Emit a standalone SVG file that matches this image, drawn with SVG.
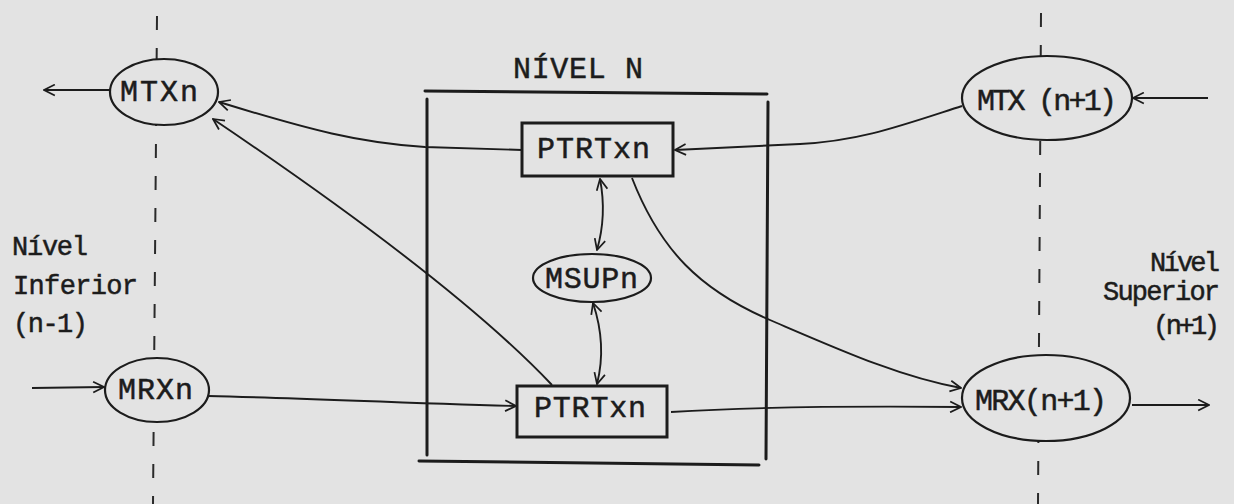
<svg xmlns="http://www.w3.org/2000/svg" width="1234" height="504" viewBox="0 0 1234 504">
<style>
  .bg { fill: #e3e3e3; }
  .t { font-family: "Liberation Mono", "DejaVu Sans Mono", monospace; fill: #1c1c1c; stroke: #1c1c1c; stroke-width: 0.5; }
  .node-t { font-size: 30px; }
  .side-t { font-size: 27px; }
  .shape { fill: #e3e3e3; stroke: #1c1c1c; stroke-width: 2.2; }
  .box { fill: #e3e3e3; stroke: #1c1c1c; stroke-width: 3; }
  .frame { fill: none; stroke: #1c1c1c; stroke-width: 3; stroke-linecap: round; }
  .guide { fill: none; stroke: #2a2a2a; stroke-width: 2; stroke-dasharray: 14 18; }
  .conn { fill: none; stroke: #1c1c1c; stroke-width: 1.9; }
</style>
<defs>
  <marker id="arr" viewBox="0 0 12 12" refX="11" refY="6" markerWidth="13" markerHeight="13" markerUnits="userSpaceOnUse" orient="auto-start-reverse">
    <path d="M1,1 L11,6 L1,11" fill="none" stroke="#1c1c1c" stroke-width="1.6"/>
  </marker>
</defs>
<rect class="bg" x="0" y="0" width="1234" height="504"/>

<g id="guides">
  <line class="guide" x1="157" y1="16" x2="153" y2="504"/>
  <line class="guide" x1="1041" y1="13" x2="1038" y2="504"/>
</g>

<g id="frame-nivel-n">
  <line class="frame" x1="425" y1="91" x2="767" y2="94"/>
  <line class="frame" x1="427" y1="99" x2="427" y2="455"/>
  <line class="frame" x1="768" y1="102" x2="766" y2="459"/>
  <line class="frame" x1="419" y1="461" x2="759" y2="465"/>
  <text class="t node-t" x="513" y="78" textLength="130">NÍVEL N</text>
</g>

<g id="connectors">
  <path class="conn" d="M109,90 L44,90" marker-end="url(#arr)"/>
  <path class="conn" d="M522,150 L425,147 C360,143 310,130 219,102" marker-end="url(#arr)"/>
  <path class="conn" d="M552,385 C500,330 400,245 213,119" marker-end="url(#arr)"/>
  <path class="conn" d="M962,106 C900,126 860,141 800,144 L675,150" marker-end="url(#arr)"/>
  <path class="conn" d="M1208,98 L1133,98" marker-end="url(#arr)"/>
  <path class="conn" d="M632,178 C660,250 700,290 770,320 C840,350 900,377 961,388" marker-end="url(#arr)"/>
  <path class="conn" d="M600,179 Q607,215 597,250" marker-start="url(#arr)" marker-end="url(#arr)"/>
  <path class="conn" d="M593,303 Q607,345 597,384" marker-start="url(#arr)" marker-end="url(#arr)"/>
  <path class="conn" d="M32,388 L104,387" marker-end="url(#arr)"/>
  <path class="conn" d="M208,396 C300,398 400,403 516,406" marker-end="url(#arr)"/>
  <path class="conn" d="M671,412 C750,407 850,406 961,407" marker-end="url(#arr)"/>
  <path class="conn" d="M1132,405 L1209,405" marker-end="url(#arr)"/>
</g>

<g id="MTXn">
  <ellipse class="shape" cx="164" cy="92" rx="54" ry="33"/>
  <text class="t node-t" x="120" y="101" textLength="78">MTXn</text>
</g>

<g id="MTX-n1">
  <ellipse class="shape" cx="1047" cy="98" rx="85" ry="42"/>
  <text class="t node-t" x="977" y="110" textLength="140">MTX (n+1)</text>
</g>

<g id="PTRTxn-top">
  <rect class="box" x="522" y="123" width="151" height="53"/>
  <text class="t node-t" x="537" y="158" textLength="113">PTRTxn</text>
</g>

<g id="MSUPn">
  <ellipse class="shape" cx="592" cy="278" rx="59" ry="24"/>
  <text class="t node-t" x="545" y="288" textLength="93">MSUPn</text>
</g>

<g id="PTRTxn-bottom">
  <rect class="box" x="517" y="386" width="150" height="51"/>
  <text class="t node-t" x="534" y="417" textLength="112">PTRTxn</text>
</g>

<g id="MRXn">
  <ellipse class="shape" cx="157" cy="390" rx="52" ry="32"/>
  <text class="t node-t" x="118" y="399" textLength="75">MRXn</text>
</g>

<g id="MRX-n1">
  <ellipse class="shape" cx="1046" cy="398" rx="84" ry="43"/>
  <text class="t node-t" x="975" y="410" textLength="132">MRX(n+1)</text>
</g>

<g id="label-inferior">
  <text class="t side-t" x="12" y="255" textLength="76">Nível</text>
  <text class="t side-t" x="13" y="294" textLength="125">Inferior</text>
  <text class="t side-t" x="13" y="332" textLength="75">(n-1)</text>
</g>

<g id="label-superior">
  <text class="t side-t" x="1150" y="271" textLength="70">Nível</text>
  <text class="t side-t" x="1103" y="300" textLength="117">Superior</text>
  <text class="t side-t" x="1153" y="334" textLength="67">(n+1)</text>
</g>
</svg>
